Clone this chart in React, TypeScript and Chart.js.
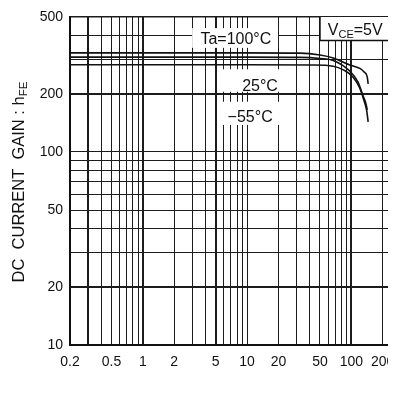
import { useEffect, useRef } from "react";
import { Chart, registerables } from "chart.js";

Chart.register(...registerables);

// DC current gain hFE against collector current Ic (mA), VCE = 5 V
const ic100 = [0.2, 10, 32, 50, 67, 97, 122, 132, 142, 145];
const hfe100 = [326, 326, 325, 318, 307, 282, 270, 260, 245, 225];
const ic25 = [0.2, 10, 32, 50, 67, 97, 116, 130, 138, 142];
const hfe25 = [310, 310, 309, 305, 298, 262, 230, 194, 178, 165];
const icMinus55 = [0.2, 10, 42, 67, 84, 104, 120, 132, 140, 145];
const hfeMinus55 = [283, 283, 282, 278, 266, 244, 215, 185, 165, 143];

// log grid: every 1..9 step of each decade
const xGrid = [
  0.2, 0.3, 0.4, 0.5, 0.6, 0.7, 0.8, 0.9,
  1, 2, 3, 4, 5, 6, 7, 8, 9,
  10, 20, 30, 40, 50, 60, 70, 80, 90,
  100, 200, 300,
];
const xLabelled = [0.2, 0.5, 1, 2, 5, 10, 20, 50, 100, 200];
const yGrid = [10, 20, 30, 40, 50, 60, 70, 80, 90, 100, 200, 300, 400, 500];
const yLabelled = [10, 20, 50, 100, 200, 500];
const xHeavy = [0.3, 1, 5, 100];
const yHeavy = [20, 200];

const FONT = '"Liberation Sans", Arial, Helvetica, sans-serif';
const INK = "#111";

type Run = { t: string; sub?: boolean };

function drawRich(
  ctx: CanvasRenderingContext2D,
  runs: Run[],
  cx: number,
  baseline: number,
  size: number,
  subSize: number
) {
  const widths = runs.map((r) => {
    ctx.font = `${r.sub ? subSize : size}px ${FONT}`;
    return ctx.measureText(r.t).width;
  });
  const total = widths.reduce((a, b) => a + b, 0);
  let xx = cx - total / 2;
  ctx.textAlign = "left";
  ctx.textBaseline = "alphabetic";
  ctx.fillStyle = INK;
  runs.forEach((r, i) => {
    ctx.font = `${r.sub ? subSize : size}px ${FONT}`;
    ctx.fillText(r.t, xx, baseline + (r.sub ? subSize * 0.3 : 0));
    xx += widths[i];
  });
}

// curve captions with the white patches they sit on (data coordinates)
const captions = [
  { text: "Ta=100°C", x: 7.8, y: 390, box: [2.97, 19.8, 346, 438] },
  { text: "25°C", x: 13.3, y: 222, box: [5.5, 21.7, 205, 268] },
  { text: "−55°C", x: 10.7, y: 154, box: [5.5, 21.7, 138, 182] },
];

const annotationPlugin = {
  id: "hfeAnnotations",
  beforeDatasetsDraw(chart: any) {
    const { ctx, chartArea } = chart;
    const xs = chart.scales.x;
    const ys = chart.scales.y;
    ctx.save();
    for (const c of captions) {
      const [x0, x1, y0, y1] = c.box;
      const l = xs.getPixelForValue(x0);
      const r = xs.getPixelForValue(x1);
      const t = ys.getPixelForValue(y1);
      const b = ys.getPixelForValue(y0);
      ctx.fillStyle = "#fff";
      ctx.fillRect(l, t, r - l, b - t);
    }
    for (const c of captions) {
      drawRich(
        ctx,
        [{ t: c.text }],
        xs.getPixelForValue(c.x),
        ys.getPixelForValue(c.y) + 6,
        16,
        11
      );
    }
    // condition box in the upper right corner
    const bl = xs.getPixelForValue(50);
    const bb = ys.getPixelForValue(378);
    const bt = chartArea.top;
    const br = chartArea.right + 2;
    ctx.fillStyle = "#fff";
    ctx.fillRect(bl, bt, br - bl, bb - bt);
    ctx.strokeStyle = INK;
    ctx.lineWidth = 1.5;
    ctx.beginPath();
    ctx.moveTo(bl, bt);
    ctx.lineTo(bl, bb);
    ctx.lineTo(br, bb);
    ctx.stroke();
    drawRich(
      ctx,
      [{ t: "V" }, { t: "CE", sub: true }, { t: "=5V" }],
      xs.getPixelForValue(109),
      ys.getPixelForValue(434) + 6,
      16,
      11
    );
    ctx.restore();
  },
  afterDraw(chart: any) {
    const { ctx, chartArea } = chart;
    ctx.save();
    // x axis title
    drawRich(
      ctx,
      [
        { t: "COLLECTOR  CURRENT : I" },
        { t: "c", sub: true },
        { t: " (mA)" },
      ],
      229,
      387,
      17,
      13
    );
    // y axis title, rotated
    ctx.translate(16, (chartArea.top + chartArea.bottom) / 2 + 1);
    ctx.rotate(-Math.PI / 2);
    drawRich(
      ctx,
      [{ t: "DC  CURRENT  GAIN : h" }, { t: "FE", sub: true }],
      0,
      0,
      16.5,
      11.5
    );
    ctx.restore();
  },
};

function series(label: string, xs: number[], ys: number[]) {
  return {
    label,
    data: xs.map((x, i) => ({ x, y: ys[i] })),
    borderColor: INK,
    borderWidth: 1.6,
    pointRadius: 0,
    fill: false,
    cubicInterpolationMode: "monotone" as const,
  };
}

export default function App() {
  const canvasRef = useRef<HTMLCanvasElement | null>(null);

  useEffect(() => {
    const canvas = canvasRef.current;
    if (!canvas) return;
    const chart = new Chart(canvas, {
      type: "line",
      data: {
        datasets: [
          series("Ta=100°C", ic100, hfe100),
          series("25°C", ic25, hfe25),
          series("−55°C", icMinus55, hfeMinus55),
        ],
      },
      options: {
        animation: false,
        responsive: false,
        devicePixelRatio: 1,
        layout: { padding: { top: 9, left: 0, right: 0, bottom: 0 } },
        plugins: {
          legend: { display: false },
          tooltip: { enabled: false },
        },
        scales: {
          x: {
            type: "logarithmic",
            min: 0.2,
            max: 320,
            afterBuildTicks: (scale: any) => {
              scale.ticks = xGrid.map((v) => ({ value: v }));
            },
            afterFit: (scale: any) => {
              scale.height = 56;
              scale.paddingLeft = 0;
              scale.paddingRight = 0;
            },
            ticks: {
              autoSkip: false,
              maxRotation: 0,
              padding: 9,
              color: INK,
              font: { family: FONT, size: 14 },
              callback: (v: any) => (xLabelled.includes(Number(v)) ? String(v) : ""),
            },
            grid: {
              color: "#1c1c1c",
              lineWidth: (c: any) => (xHeavy.includes(c.tick?.value) ? 2 : 1),
              drawTicks: false,
            },
            border: { color: INK, width: 2 },
          },
          y: {
            type: "logarithmic",
            min: 10,
            max: 500,
            afterBuildTicks: (scale: any) => {
              scale.ticks = yGrid.map((v) => ({ value: v }));
            },
            afterFit: (scale: any) => {
              scale.width = 62;
              scale.paddingTop = 0;
              scale.paddingBottom = 0;
            },
            ticks: {
              autoSkip: false,
              padding: 7,
              color: INK,
              font: { family: FONT, size: 14 },
              callback: (v: any) => (yLabelled.includes(Number(v)) ? String(v) : ""),
            },
            grid: {
              color: "#1c1c1c",
              lineWidth: (c: any) =>
                c.tick?.value === 500 ? 1.5 : yHeavy.includes(c.tick?.value) ? 2 : 1,
              drawTicks: false,
            },
            border: { color: INK, width: 2 },
          },
        },
      },
      plugins: [annotationPlugin],
    });
    return () => chart.destroy();
  }, []);

  return (
    <div
      style={{
        width: 388,
        height: 393,
        overflow: "hidden",
        marginBottom: -20,
        background: "#fff",
      }}
    >
      <canvas
        ref={canvasRef}
        width={396}
        height={393}
        style={{ display: "block", width: 396, height: 393 }}
      />
    </div>
  );
}
